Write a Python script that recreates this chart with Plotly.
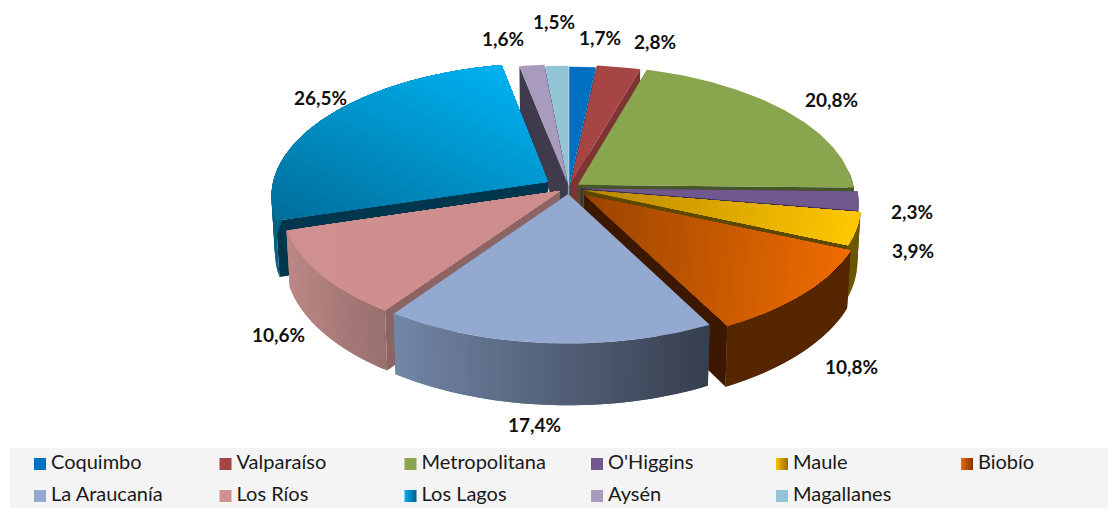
import math
import plotly.graph_objects as go

# ---- data ----
categories = ["Coquimbo", "Valparaíso", "Metropolitana", "O'Higgins", "Maule", "Biobío",
              "La Araucanía", "Los Ríos", "Los Lagos", "Aysén", "Magallanes"]
values = [1.7, 2.8, 20.8, 2.3, 3.9, 10.8, 17.4, 10.6, 26.5, 1.6, 1.5]
explode = [0.012, 0.028, 0.04, 0.043, 0.052, 0.075, 0.045, 0.04, 0.09, 0.035, 0.02]

# ---- styling ----
style = [
    dict(top=("#006FC0", "#006FC0", (1, 0)), wall=("#004f88", "#004f88"), face="#004a80"),
    dict(top=("#A54544", "#A54544", (1, 0)), wall=("#7d3433", "#7d3433"), face="#7d3433"),
    dict(top=("#89A54E", "#89A54E", (1, 0)), wall=("#4a5a2a", "#4a5a2a"), face="#465528"),
    dict(top=("#71588F", "#71588F", (1, 0)), wall=("#4a3a60", "#4a3a60"), face="#3a2d4c"),
    dict(top=("#B88600", "#FFC800", (0.95, 0.3)), wall=("#6b5600", "#6b5600"), face="#5c4800"),
    dict(top=("#9A4400", "#F06C00", (1, 0.1)), wall=("#562600", "#562600"), face="#3d1800"),
    dict(top=("#93A9CF", "#93A9CF", (1, 0)), wall=("#7286A6", "#363E4E"), face="#4a5568"),
    dict(top=("#D09090", "#CD8D8D", (1, 0)), wall=("#BC8886", "#976F6E"), face="#8C6464"),
    dict(top=("#006E9A", "#00B2F2", (0.42, -0.9)), wall=("#00607F", "#00607F"), face="#00364E"),
    dict(top=("#A99BBD", "#A99BBD", (1, 0)), wall=("#6b6078", "#6b6078"), face="#403B4C"),
    dict(top=("#92C4D6", "#92C4D6", (1, 0)), wall=("#5f8a99", "#5f8a99"), face="#5f8a99"),
]
swatches = [("#006FC0", None), ("#A54544", None), ("#89A54E", None), ("#71588F", None),
            ("#FFC000", "#9A6C00"), ("#F06C00", "#7A3500"), ("#93A9CF", None), ("#D09090", None),
            ("#00B2F2", "#005E88"), ("#A99BBD", None), ("#92C4D6", None)]
label_pos = [(600, 37), (655, 41), (831, 99), (912, 211), (913, 250), (851, 366),
             (534, 424), (278, 334), (320, 97), (503, 38), (554, 21)]
legend_cols = [40, 225.5, 410.5, 597, 782, 967]
legend_rows = [464, 496]

CX, CY, RX, RY, PERSP, DEPTH, TAPER = 569, 188, 276, 132.6, 0.1044, 55, 0.012
FONT = "Lato, 'Open Sans', sans-serif"


def project(X, Y, z=0.0):
    s = 1.0 / (1.0 - PERSP * Y)
    return (CX + RX * X * s * (1 - TAPER * z), CY + RY * Y * s + DEPTH * s * z)


def hex2rgb(c):
    return tuple(int(c[i:i + 2], 16) for i in (1, 3, 5))


def mix(a, b, t):
    t = max(0.0, min(1.0, t))
    ra, rb = hex2rgb(a), hex2rgb(b)
    return "#%02x%02x%02x" % tuple(round(ra[i] + (rb[i] - ra[i]) * t) for i in range(3))


def clip_from(poly, d, lim):
    """Keep the part of a polygon with p.d >= lim."""
    out = []
    for i, p in enumerate(poly):
        q = poly[(i + 1) % len(poly)]
        vp = p[0] * d[0] + p[1] * d[1] - lim
        vq = q[0] * d[0] + q[1] * d[1] - lim
        if vp >= 0:
            out.append(p)
        if (vp >= 0) != (vq >= 0):
            t = vp / (vp - vq)
            out.append((p[0] + (q[0] - p[0]) * t, p[1] + (q[1] - p[1]) * t))
    return out


fig = go.Figure()


def add_poly(pts, color):
    xs = [p[0] for p in pts] + [pts[0][0]]
    ys = [p[1] for p in pts] + [pts[0][1]]
    fig.add_trace(go.Scatter(x=xs, y=ys, mode="lines", fill="toself", fillcolor=color,
                             line=dict(width=0), hoverinfo="skip", showlegend=False))


total = sum(values)
slices = []
cum = 0.0
for i, v in enumerate(values):
    a0 = cum / total * 2 * math.pi
    cum += v
    a1 = cum / total * 2 * math.pi
    mid = (a0 + a1) / 2
    slices.append(dict(i=i, a0=a0, a1=a1, mid=mid, ox=explode[i] * math.sin(mid), oy=-explode[i] * math.cos(mid)))

for sl in sorted(slices, key=lambda q: -math.cos(q["mid"])):
    st = style[sl["i"]]
    ox, oy, a0, a1 = sl["ox"], sl["oy"], sl["a0"], sl["a1"]
    n = max(3, int(math.degrees(a1 - a0)))
    angs = [a0 + (a1 - a0) * k / n for k in range(n + 1)]
    rim = [(ox + math.sin(a), oy - math.cos(a)) for a in angs]

    # radial faces
    for r in (rim[0], rim[-1]):
        add_poly([project(ox, oy, 0), project(*r, 0), project(*r, 1), project(ox, oy, 1)], st["face"])

    # outer wall (only the part turned towards the viewer); each strip overlaps the next
    xs = [project(*r)[0] for r in rim]
    lo, hi = min(xs), max(xs)
    for k in range(n):
        if -math.cos(angs[k]) < -0.1 and -math.cos(angs[k + 1]) < -0.1:
            continue
        j = min(k + 2, n)
        t = ((xs[k] + xs[k + 1]) / 2 - lo) / max(hi - lo, 1)
        upper = [project(*rim[m], 0) for m in range(k, j + 1)]
        lower = [project(*rim[m], 1) for m in range(j, k - 1, -1)]
        add_poly(upper + lower, mix(st["wall"][0], st["wall"][1], t))

    # top surface: nested gradient bands, each painted over the previous
    top = [project(ox, oy)] + [project(*r) for r in rim]
    c0, c1, d = st["top"]
    if c0 == c1:
        add_poly(top, c0)
    else:
        norm = math.hypot(*d)
        d = (d[0] / norm, d[1] / norm)
        proj = [p[0] * d[0] + p[1] * d[1] for p in top]
        mn, mx = min(proj), max(proj)
        bands = 40
        for b in range(bands):
            piece = clip_from(top, d, mn + (mx - mn) * b / bands)
            if len(piece) >= 3:
                add_poly(piece, mix(c0, c1, (b + 0.5) / bands))

# legend band
fig.add_shape(type="rect", xref="x", yref="y", x0=10, x1=1108, y0=448, y1=508,
              fillcolor="#F4F4F4", line_width=0, layer="below")

# legend entries
for i, name in enumerate(categories):
    col, grad = swatches[i]
    marker = dict(symbol="square", size=12, color=col, line_width=0)
    if grad:
        marker["gradient"] = dict(type="horizontal", color=grad)
    fig.add_trace(go.Scatter(x=[legend_cols[i % 6]], y=[legend_rows[i // 6]], mode="markers+text",
                             name=name, text=["\u2009" + name], textposition="middle right", marker=marker,
                             textfont=dict(family=FONT, size=20, color="#1a1a1a"),
                             showlegend=False, hoverinfo="name"))

# data labels
for v, (lx, ly) in zip(values, label_pos):
    fig.add_annotation(x=lx, y=ly, xref="x", yref="y", showarrow=False,
                       text=f"<b>{str(v).replace('.', ',')}%</b>",
                       font=dict(family=FONT, size=19, color="#111111"))

fig.update_layout(
    width=1108, height=508, margin=dict(l=0, r=0, t=0, b=0),
    paper_bgcolor="white", plot_bgcolor="white",
    xaxis=dict(range=[0, 1108], visible=False, fixedrange=True),
    yaxis=dict(range=[508, 0], visible=False, fixedrange=True),
    showlegend=False,
)
fig.write_html("out.html", config=dict(displayModeBar=False),
               post_script="document.body.style.margin='0';document.documentElement.style.overflow='hidden';"
                           "Plotly.relayout('{plot_id}',{width:1108,height:508});")
